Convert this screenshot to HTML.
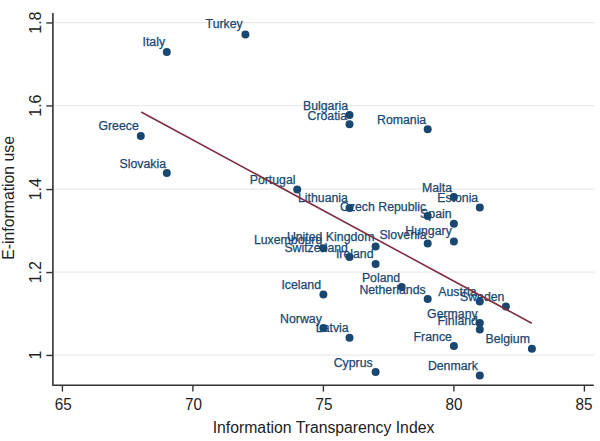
<!DOCTYPE html>
<html><head><meta charset="utf-8"><title>Scatter</title>
<style>
html,body{margin:0;padding:0;background:#fff;}
body{width:600px;height:441px;overflow:hidden;}
svg{display:block;}
text{font-family:"Liberation Sans",Arial,sans-serif;}
</style></head><body>
<svg width="600" height="441" viewBox="0 0 600 441">
<rect x="0" y="0" width="600" height="441" fill="#ffffff"/>

<line x1="53.9" y1="355.1" x2="594.5" y2="355.1" stroke="#eaeaea" stroke-width="1.2"/>
<line x1="53.9" y1="272.2" x2="594.5" y2="272.2" stroke="#eaeaea" stroke-width="1.2"/>
<line x1="53.9" y1="189.2" x2="594.5" y2="189.2" stroke="#eaeaea" stroke-width="1.2"/>
<line x1="53.9" y1="105.6" x2="594.5" y2="105.6" stroke="#eaeaea" stroke-width="1.2"/>
<line x1="53.9" y1="22.6" x2="594.5" y2="22.6" stroke="#eaeaea" stroke-width="1.2"/>
<path d="M52.9 13 L52.9 385.2 L593.8 385.2" fill="none" stroke="#333333" stroke-width="1.6" stroke-linejoin="round"/>
<line x1="46.3" y1="355.45" x2="52.9" y2="355.45" stroke="#333333" stroke-width="1.4"/>
<text transform="translate(40.8,355.1) rotate(-90)" text-anchor="middle" font-size="16" fill="#222">1</text>
<line x1="46.3" y1="272.55" x2="52.9" y2="272.55" stroke="#333333" stroke-width="1.4"/>
<text transform="translate(40.8,272.2) rotate(-90)" text-anchor="middle" font-size="16" fill="#222">1.2</text>
<line x1="46.3" y1="189.55" x2="52.9" y2="189.55" stroke="#333333" stroke-width="1.4"/>
<text transform="translate(40.8,189.2) rotate(-90)" text-anchor="middle" font-size="16" fill="#222">1.4</text>
<line x1="46.3" y1="105.95" x2="52.9" y2="105.95" stroke="#333333" stroke-width="1.4"/>
<text transform="translate(40.8,105.6) rotate(-90)" text-anchor="middle" font-size="16" fill="#222">1.6</text>
<line x1="46.3" y1="22.95" x2="52.9" y2="22.95" stroke="#333333" stroke-width="1.4"/>
<text transform="translate(40.8,22.6) rotate(-90)" text-anchor="middle" font-size="16" fill="#222">1.8</text>
<line x1="62.4" y1="385.2" x2="62.4" y2="391.6" stroke="#333333" stroke-width="1.4"/>
<text transform="translate(63.2,409.6) scale(0.955,1)" text-anchor="middle" font-size="16" fill="#222">65</text>
<line x1="192.9" y1="385.2" x2="192.9" y2="391.6" stroke="#333333" stroke-width="1.4"/>
<text transform="translate(193.6,409.6) scale(0.955,1)" text-anchor="middle" font-size="16" fill="#222">70</text>
<line x1="323.4" y1="385.2" x2="323.4" y2="391.6" stroke="#333333" stroke-width="1.4"/>
<text transform="translate(323.9,409.6) scale(0.955,1)" text-anchor="middle" font-size="16" fill="#222">75</text>
<line x1="453.9" y1="385.2" x2="453.9" y2="391.6" stroke="#333333" stroke-width="1.4"/>
<text transform="translate(454.1,409.6) scale(0.955,1)" text-anchor="middle" font-size="16" fill="#222">80</text>
<line x1="584.4" y1="385.2" x2="584.4" y2="391.6" stroke="#333333" stroke-width="1.4"/>
<text transform="translate(584.1,409.6) scale(0.955,1)" text-anchor="middle" font-size="16" fill="#222">85</text>
<text transform="translate(14,197.9) rotate(-90) scale(0.987,1)" text-anchor="middle" font-size="16" fill="#222">E-information use</text>
<text transform="translate(323.5,432.9) scale(0.985,1)" text-anchor="middle" font-size="16" fill="#222">Information Transparency Index</text>
<circle cx="245.4" cy="34.5" r="4.0" fill="#1a476f"/>
<circle cx="166.8" cy="52.0" r="4.0" fill="#1a476f"/>
<circle cx="349.5" cy="115.0" r="4.0" fill="#1a476f"/>
<circle cx="349.5" cy="124.3" r="4.0" fill="#1a476f"/>
<circle cx="427.7" cy="129.3" r="4.0" fill="#1a476f"/>
<circle cx="140.8" cy="136.0" r="4.0" fill="#1a476f"/>
<circle cx="166.8" cy="173.0" r="4.0" fill="#1a476f"/>
<circle cx="297.2" cy="189.5" r="4.0" fill="#1a476f"/>
<circle cx="349.5" cy="207.9" r="4.0" fill="#1a476f"/>
<circle cx="453.9" cy="197.1" r="4.0" fill="#1a476f"/>
<circle cx="479.8" cy="207.6" r="4.0" fill="#1a476f"/>
<circle cx="427.7" cy="216.1" r="4.0" fill="#1a476f"/>
<circle cx="453.9" cy="223.7" r="4.0" fill="#1a476f"/>
<circle cx="453.9" cy="241.6" r="4.0" fill="#1a476f"/>
<circle cx="427.7" cy="243.6" r="4.0" fill="#1a476f"/>
<circle cx="323.4" cy="248.3" r="4.0" fill="#1a476f"/>
<circle cx="375.6" cy="246.5" r="4.0" fill="#1a476f"/>
<circle cx="349.5" cy="257.0" r="4.0" fill="#1a476f"/>
<circle cx="375.6" cy="264.0" r="4.0" fill="#1a476f"/>
<circle cx="401.7" cy="287.0" r="4.0" fill="#1a476f"/>
<circle cx="427.7" cy="299.0" r="4.0" fill="#1a476f"/>
<circle cx="323.4" cy="294.6" r="4.0" fill="#1a476f"/>
<circle cx="479.8" cy="301.6" r="4.0" fill="#1a476f"/>
<circle cx="505.9" cy="306.5" r="4.0" fill="#1a476f"/>
<circle cx="479.8" cy="322.9" r="4.0" fill="#1a476f"/>
<circle cx="479.8" cy="329.5" r="4.0" fill="#1a476f"/>
<circle cx="323.4" cy="327.9" r="4.0" fill="#1a476f"/>
<circle cx="349.5" cy="337.7" r="4.0" fill="#1a476f"/>
<circle cx="453.9" cy="346.0" r="4.0" fill="#1a476f"/>
<circle cx="531.9" cy="348.8" r="4.0" fill="#1a476f"/>
<circle cx="375.6" cy="372.1" r="4.0" fill="#1a476f"/>
<circle cx="479.8" cy="375.4" r="4.0" fill="#1a476f"/>
<text x="205.6" y="28.3" font-size="12.3" fill="#1a476f" stroke="#1a476f" stroke-width="0.25">Turkey</text>
<text x="142.5" y="46.3" font-size="12.3" fill="#1a476f" stroke="#1a476f" stroke-width="0.25">Italy</text>
<text x="303.0" y="110.0" font-size="12.3" fill="#1a476f" stroke="#1a476f" stroke-width="0.25">Bulgaria</text>
<text x="307.5" y="119.5" font-size="12.3" fill="#1a476f" stroke="#1a476f" stroke-width="0.25">Croatia</text>
<text x="377.0" y="124.3" font-size="12.3" fill="#1a476f" stroke="#1a476f" stroke-width="0.25">Romania</text>
<text x="98.4" y="130.0" font-size="12.3" fill="#1a476f" stroke="#1a476f" stroke-width="0.25">Greece</text>
<text x="119.5" y="168.0" font-size="12.3" fill="#1a476f" stroke="#1a476f" stroke-width="0.25">Slovakia</text>
<text x="249.7" y="184.3" font-size="12.3" fill="#1a476f" stroke="#1a476f" stroke-width="0.25">Portugal</text>
<text x="298.0" y="202.0" font-size="12.3" fill="#1a476f" stroke="#1a476f" stroke-width="0.25">Lithuania</text>
<text x="422.0" y="192.2" font-size="12.3" fill="#1a476f" stroke="#1a476f" stroke-width="0.25">Malta</text>
<text x="437.2" y="201.9" font-size="12.3" fill="#1a476f" stroke="#1a476f" stroke-width="0.25">Estonia</text>
<text x="340.0" y="211.3" font-size="12.3" fill="#1a476f" stroke="#1a476f" stroke-width="0.25">Czech Republic</text>
<text x="420.1" y="217.5" font-size="12.3" fill="#1a476f" stroke="#1a476f" stroke-width="0.25">Spain</text>
<text x="405.3" y="235.4" font-size="12.3" fill="#1a476f" stroke="#1a476f" stroke-width="0.25">Hungary</text>
<text x="379.4" y="238.8" font-size="12.3" fill="#1a476f" stroke="#1a476f" stroke-width="0.25">Slovenia</text>
<text x="253.9" y="243.7" font-size="12.3" fill="#1a476f" stroke="#1a476f" stroke-width="0.25">Luxembourg</text>
<text x="286.9" y="241.3" font-size="12.3" fill="#1a476f" stroke="#1a476f" stroke-width="0.25">United Kingdom</text>
<text x="284.4" y="252.3" font-size="12.3" fill="#1a476f" stroke="#1a476f" stroke-width="0.25">Switzerland</text>
<text x="335.9" y="258.4" font-size="12.3" fill="#1a476f" stroke="#1a476f" stroke-width="0.25">Ireland</text>
<text x="361.9" y="282.1" font-size="12.3" fill="#1a476f" stroke="#1a476f" stroke-width="0.25">Poland</text>
<text x="359.4" y="294.0" font-size="12.3" fill="#1a476f" stroke="#1a476f" stroke-width="0.25">Netherlands</text>
<text x="281.4" y="289.2" font-size="12.3" fill="#1a476f" stroke="#1a476f" stroke-width="0.25">Iceland</text>
<text x="438.3" y="296.0" font-size="12.3" fill="#1a476f" stroke="#1a476f" stroke-width="0.25">Austria</text>
<text x="460.0" y="300.8" font-size="12.3" fill="#1a476f" stroke="#1a476f" stroke-width="0.25">Sweden</text>
<text x="427.1" y="317.5" font-size="12.3" fill="#1a476f" stroke="#1a476f" stroke-width="0.25">Germany</text>
<text x="437.6" y="325.0" font-size="12.3" fill="#1a476f" stroke="#1a476f" stroke-width="0.25">Finland</text>
<text x="280.1" y="322.8" font-size="12.3" fill="#1a476f" stroke="#1a476f" stroke-width="0.25">Norway</text>
<text x="315.8" y="332.3" font-size="12.3" fill="#1a476f" stroke="#1a476f" stroke-width="0.25">Latvia</text>
<text x="413.6" y="341.0" font-size="12.3" fill="#1a476f" stroke="#1a476f" stroke-width="0.25">France</text>
<text x="485.5" y="343.3" font-size="12.3" fill="#1a476f" stroke="#1a476f" stroke-width="0.25">Belgium</text>
<text x="333.7" y="367.0" font-size="12.3" fill="#1a476f" stroke="#1a476f" stroke-width="0.25">Cyprus</text>
<text x="427.9" y="370.0" font-size="12.3" fill="#1a476f" stroke="#1a476f" stroke-width="0.25">Denmark</text>
<line x1="141.2" y1="112" x2="531.8" y2="323.3" stroke="#7f2e42" stroke-width="1.6"/>
</svg>
</body></html>
